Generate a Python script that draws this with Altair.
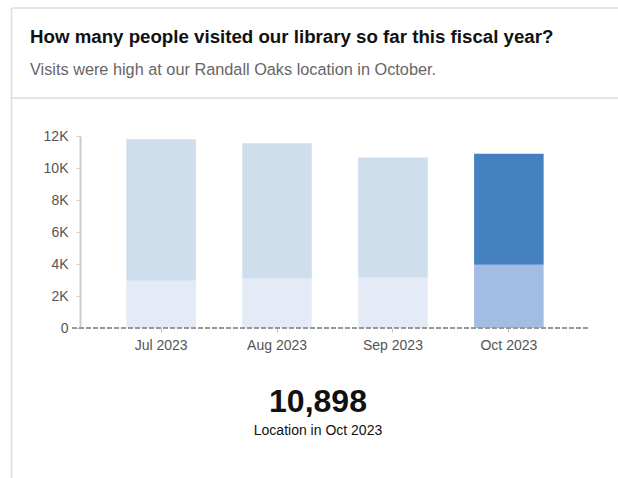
import altair as alt
import pandas as pd

months = ["Jul 2023", "Aug 2023", "Sep 2023", "Oct 2023"]
randall_oaks = [2960, 3090, 3150, 3960]
other_locations = [8830, 8450, 7510, 6938]
highlight_month = "Oct 2023"

title_text = "How many people visited our library so far this fiscal year?"
subtitle_text = "Visits were high at our Randall Oaks location in October."
big_number = "10,898"
caption_text = "Location in Oct 2023"

rows = []
for m, a, b in zip(months, randall_oaks, other_locations):
    hl = "hl" if m == highlight_month else "base"
    rows.append({"month": m, "segment": "Randall Oaks", "value": a, "order": 0, "key": hl + "_bottom"})
    rows.append({"month": m, "segment": "Other locations", "value": b, "order": 1, "key": hl + "_top"})
df = pd.DataFrame(rows)

FONT = "Liberation Sans"
PL, PT = 80, 136
W, H = 510, 192

bars = alt.Chart(df).mark_bar().encode(
    x=alt.X("month:N", sort=months, title=None,
            scale=alt.Scale(paddingInner=0.4, paddingOuter=0.4),
            axis=alt.Axis(labelAngle=0, domain=False, ticks=True, tickSize=4,
                          tickColor="#bbbbbb", labelColor="#555555", labelFontSize=14,
                          labelPadding=6, labelFont=FONT)),
    y=alt.Y("value:Q", stack="zero", title=None,
            scale=alt.Scale(domain=[0, 12000], nice=False),
            axis=alt.Axis(values=[0, 2000, 4000, 6000, 8000, 10000, 12000],
                          labelExpr="datum.value == 0 ? '0' : (datum.value / 1000) + 'K'",
                          labelOverlap=False,
                          grid=False, domainColor="#cccccc", domainWidth=2,
                          tickColor="#cccccc", tickSize=4, labelColor="#555555",
                          labelFontSize=14, labelPadding=8, labelFont=FONT)),
    order=alt.Order("order:Q"),
    color=alt.Color("key:N", legend=None,
                    scale=alt.Scale(domain=["base_bottom", "base_top", "hl_bottom", "hl_top"],
                                    range=["#e4eaf6", "#cfdeed", "#a3bce4", "#4581c1"])),
)

one = pd.DataFrame({"v": [0]})

zero_line = alt.Chart(one).mark_rule(color="#999999", strokeWidth=2, strokeDash=[5, 2]).encode(
    y=alt.value(H), x=alt.value(-8), x2=alt.value(W)
)

def text_layer(txt, x, y, size, color, weight="normal", align="left"):
    return alt.Chart(pd.DataFrame({"t": [txt]})).mark_text(
        align=align, baseline="alphabetic", fontSize=size, font=FONT,
        fontWeight=weight, color=color
    ).encode(text="t:N", x=alt.value(x), y=alt.value(y))

title = text_layer(title_text, 30 - PL, 43 - PT, 18.7, "#111111", "bold")
subtitle = text_layer(subtitle_text, 30 - PL, 75 - PT, 16.3, "#666666")
number = text_layer(big_number, 318 - PL, 412 - PT, 32, "#111111", "bold", "center")
caption = text_layer(caption_text, 318 - PL, 435 - PT, 14, "#111111", "normal", "center")

border_color = "#dddddd"
top_border = alt.Chart(one).mark_rule(color=border_color, strokeWidth=1.5).encode(
    x=alt.value(12 - PL), x2=alt.value(618 - PL), y=alt.value(8 - PT)
)
left_border = alt.Chart(one).mark_rule(color=border_color, strokeWidth=1.5).encode(
    x=alt.value(11.5 - PL), y=alt.value(8 - PT), y2=alt.value(478 - PT)
)
divider = alt.Chart(one).mark_rule(color=border_color, strokeWidth=1.5).encode(
    x=alt.value(12 - PL), x2=alt.value(618 - PL), y=alt.value(98 - PT)
)

chart = alt.layer(
    top_border, left_border, divider, bars, zero_line, title, subtitle, number, caption
).properties(
    width=W, height=H,
    padding={"left": PL, "top": PT, "right": 28, "bottom": 150},
    autosize=alt.AutoSizeParams(type="none"),
    background="white",
).configure_view(stroke=None).configure_axis(labelFont=FONT)

chart.save("out.html", embed_options={"renderer": "svg", "actions": False})
